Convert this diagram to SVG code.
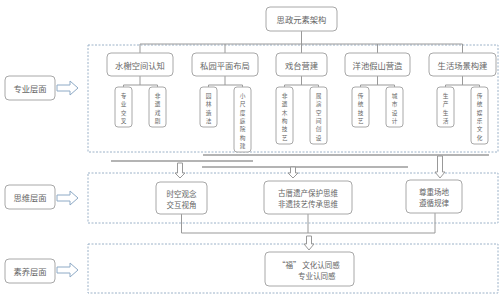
<svg xmlns="http://www.w3.org/2000/svg" width="503" height="307" viewBox="0 0 503 307">
<style>
.bg{fill:#ffffff}
.box{fill:#ffffff;stroke:#a8a8a8;stroke-width:1}
.frame{fill:none;stroke:#9cb2c8;stroke-width:1;stroke-dasharray:2 1.5}
.t{font-family:"Noto Sans CJK SC",sans-serif;font-size:8.3px;fill:#666;text-anchor:middle;dominant-baseline:central}
.t2{font-family:"Noto Sans CJK SC",sans-serif;font-size:7.5px;fill:#666;text-anchor:middle;dominant-baseline:central}
.v{font-family:"Noto Sans CJK SC",sans-serif;font-size:5.7px;fill:#666;text-anchor:middle;dominant-baseline:central}
.ln{fill:none;stroke:#999;stroke-width:1}
.bar{fill:none;stroke:#b4b4b4;stroke-width:2}
.da{fill:#fff;stroke:#999;stroke-width:1}
.ra{fill:#fff;stroke:#8eaac6;stroke-width:1}
</style>
<rect class="bg" x="0" y="0" width="503" height="307"/>
<g id="frames">
<rect class="frame" x="88" y="45" width="410" height="107"/>
<rect class="frame" x="88" y="173" width="410" height="50"/>
<rect class="frame" x="88" y="244" width="410" height="49"/>
</g>
<g id="connectors">
<path class="ln" d="M301.5,31 V44 M140,44 H462.5 M140,44 V53 M225,44 V53 M301.5,44 V53 M377.5,44 V53 M462.5,44 V53"/>
<path class="ln" d="M140,76 V85 M123.5,85 H157.5 M123.5,85 V87 M157.5,85 V87"/>
<path class="ln" d="M225,76 V85 M208.5,85 H242.5 M208.5,85 V87 M242.5,85 V87"/>
<path class="ln" d="M301.5,76 V85 M284.5,85 H318.5 M284.5,85 V87 M318.5,85 V87"/>
<path class="ln" d="M377.5,76 V85 M360.5,85 H394.5 M360.5,85 V87 M394.5,85 V87"/>
<path class="ln" d="M462.5,76 V85 M445.5,85 H479.5 M445.5,85 V87 M479.5,85 V87"/>
<path class="bar" d="M203,155 H489 M111,161 H253 M202,167 H408"/>
<path class="da" d="M177.5,163 H182.5 V173 H185 L180,178 L175,173 H177.5 Z"/>
<path class="da" d="M290.5,167 H295.5 V173 H298 L293,178 L288,173 H290.5 Z"/>
<path class="da" d="M437.5,156 H442.5 V172 H445 L440,178 L435,172 H437.5 Z"/>
<path class="ln" d="M181.5,214 V233 H435 M308,214 V233 M435,213 V233"/>
<path class="da" d="M306.5,236 H311.5 V244 H314 L309,250 L304,244 H306.5 Z"/>
<path class="ra" d="M57,85 H70 V81 L78,88 L70,95 V91 H57 Z"/>
<path class="ra" d="M57,195 H70 V191 L78,198 L70,205 V201 H57 Z"/>
<path class="ra" d="M57,267 H70 V263 L78,270 L70,277 V273 H57 Z"/>
</g>
<g id="n-root"><rect class="box" x="266" y="7" width="71" height="24" rx="4"/><text class="t" x="301.5" y="19">思政元素架构</text></g>
<g id="n-left1"><rect class="box" x="5" y="76" width="50" height="24" rx="4"/><text class="t" x="30" y="88">专业层面</text></g>
<g id="n-left2"><rect class="box" x="5" y="185" width="50" height="24" rx="4"/><text class="t" x="30" y="197">思维层面</text></g>
<g id="n-left3"><rect class="box" x="5" y="259" width="50" height="24" rx="4"/><text class="t" x="30" y="271">素养层面</text></g>
<g id="n-a"><rect class="box" x="107" y="53" width="66" height="23" rx="4"/><text class="t" x="140" y="64.5">水榭空间认知</text></g>
<g id="n-b"><rect class="box" x="192" y="53" width="66" height="23" rx="4"/><text class="t" x="225" y="64.5">私园平面布局</text></g>
<g id="n-c"><rect class="box" x="276" y="53" width="51" height="23" rx="4"/><text class="t" x="301.5" y="64.5">戏台营建</text></g>
<g id="n-d"><rect class="box" x="345" y="53" width="65" height="23" rx="4"/><text class="t" x="377.5" y="64.5">洋池假山营造</text></g>
<g id="n-e"><rect class="box" x="429" y="53" width="67" height="23" rx="4"/><text class="t" x="462.5" y="64.5">生活场景构建</text></g>
<g id="n-a1"><rect class="box" x="115" y="87" width="17" height="40" rx="3"/><text class="v"><tspan x="123.5" y="95">专</tspan><tspan x="123.5" dy="8.3">业</tspan><tspan x="123.5" dy="8.3">交</tspan><tspan x="123.5" dy="8.3">叉</tspan></text></g>
<g id="n-a2"><rect class="box" x="149" y="87" width="17" height="40" rx="3"/><text class="v"><tspan x="157.5" y="95">非</tspan><tspan x="157.5" dy="8.3">遗</tspan><tspan x="157.5" dy="8.3">戏</tspan><tspan x="157.5" dy="8.3">剧</tspan></text></g>
<g id="n-b1"><rect class="box" x="200" y="87" width="17" height="40" rx="3"/><text class="v"><tspan x="208.5" y="95">园</tspan><tspan x="208.5" dy="8.3">林</tspan><tspan x="208.5" dy="8.3">造</tspan><tspan x="208.5" dy="8.3">法</tspan></text></g>
<g id="n-b2"><rect class="box" x="234" y="87" width="17" height="65" rx="3"/><text class="v"><tspan x="242.5" y="95">小</tspan><tspan x="242.5" dy="8.3">尺</tspan><tspan x="242.5" dy="8.3">度</tspan><tspan x="242.5" dy="8.3">庭</tspan><tspan x="242.5" dy="8.3">院</tspan><tspan x="242.5" dy="8.3">构</tspan><tspan x="242.5" dy="8.3">建</tspan></text></g>
<g id="n-c1"><rect class="box" x="276" y="87" width="17" height="57" rx="3"/><text class="v"><tspan x="284.5" y="95">非</tspan><tspan x="284.5" dy="8.3">遗</tspan><tspan x="284.5" dy="8.3">木</tspan><tspan x="284.5" dy="8.3">构</tspan><tspan x="284.5" dy="8.3">技</tspan><tspan x="284.5" dy="8.3">艺</tspan></text></g>
<g id="n-c2"><rect class="box" x="310" y="87" width="17" height="57" rx="3"/><text class="v"><tspan x="318.5" y="95">展</tspan><tspan x="318.5" dy="8.3">演</tspan><tspan x="318.5" dy="8.3">空</tspan><tspan x="318.5" dy="8.3">间</tspan><tspan x="318.5" dy="8.3">创</tspan><tspan x="318.5" dy="8.3">设</tspan></text></g>
<g id="n-d1"><rect class="box" x="352" y="87" width="17" height="40" rx="3"/><text class="v"><tspan x="360.5" y="95">传</tspan><tspan x="360.5" dy="8.3">统</tspan><tspan x="360.5" dy="8.3">技</tspan><tspan x="360.5" dy="8.3">艺</tspan></text></g>
<g id="n-d2"><rect class="box" x="386" y="87" width="17" height="40" rx="3"/><text class="v"><tspan x="394.5" y="95">城</tspan><tspan x="394.5" dy="8.3">市</tspan><tspan x="394.5" dy="8.3">设</tspan><tspan x="394.5" dy="8.3">计</tspan></text></g>
<g id="n-e1"><rect class="box" x="437" y="87" width="17" height="40" rx="3"/><text class="v"><tspan x="445.5" y="95">生</tspan><tspan x="445.5" dy="8.3">产</tspan><tspan x="445.5" dy="8.3">生</tspan><tspan x="445.5" dy="8.3">活</tspan></text></g>
<g id="n-e2"><rect class="box" x="471" y="87" width="17" height="57" rx="3"/><text class="v"><tspan x="479.5" y="95">传</tspan><tspan x="479.5" dy="8.3">统</tspan><tspan x="479.5" dy="8.3">娱</tspan><tspan x="479.5" dy="8.3">乐</tspan><tspan x="479.5" dy="8.3">文</tspan><tspan x="479.5" dy="8.3">化</tspan></text></g>
<g id="n-m1"><rect class="box" x="156" y="182" width="51" height="32" rx="4"/><text class="t2"><tspan x="181.5" y="192.5">时空观念</tspan><tspan x="181.5" y="203.5">交互视角</tspan></text></g>
<g id="n-m2"><rect class="box" x="264" y="181" width="88" height="33" rx="4"/><text class="t2"><tspan x="308" y="192">古厝遗产保护思维</tspan><tspan x="308" y="203">非遗技艺传承思维</tspan></text></g>
<g id="n-m3"><rect class="box" x="406" y="180" width="56" height="33" rx="4"/><text class="t2"><tspan x="434" y="191">尊重场地</tspan><tspan x="434" y="202">遵循规律</tspan></text></g>
<g id="n-s"><rect class="box" x="265" y="252" width="89" height="34" rx="4"/><text class="t2" style="text-anchor:start"><tspan x="278" y="263.5">“福” 文化认同感</tspan><tspan x="298" y="274.5">专业认同感</tspan></text></g>
</svg>
